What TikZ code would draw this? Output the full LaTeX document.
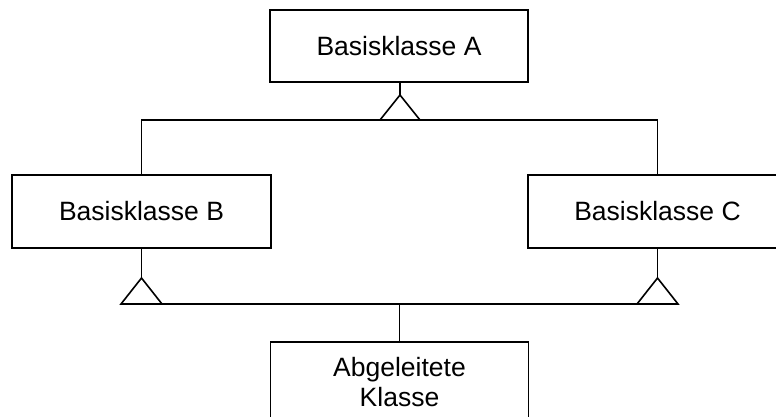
\documentclass[tikz,border=0pt]{standalone}
\usepackage{fontspec}
\setmainfont{Liberation Sans}
\begin{document}
\begin{tikzpicture}[x=1pt,y=-1pt,line width=1.6pt,
  cls/.style={draw,rectangle,inner sep=0pt,align=center,font=\fontsize{26.5}{30}\selectfont},
  tri/.style={draw,line join=miter}]
\useasboundingbox (0,0) rectangle (776,416);
\clip (0,0) rectangle (776,416);
\node[cls,minimum width=258pt,minimum height=72pt] (A) at (399,46) {Basisklasse A};
\node[cls,minimum width=259pt,minimum height=73pt] (B) at (141.5,211.5) {Basisklasse B};
\node[cls,minimum width=259pt,minimum height=73pt] (C) at (657.5,211.5) {Basisklasse C};
\node[cls,minimum width=258pt,minimum height=80pt] (D) at (399.5,382) {Abgeleitete\\Klasse};
% triangle under A
\coordinate (ta) at (400,95);
\coordinate (hA) at (400,120);
\draw (A.south -| ta) -- (ta);
\draw[tri] (ta) -- ++(20,25) -- ++(-40,0) -- cycle;
\draw (B.north -| B.north) ++(0,0);
\draw (B.north) |- (hA) -| (C.north);
% triangles under B and C
\coordinate (tb) at (141.5,278);
\coordinate (tc) at (657.5,278);
\draw (B.south) -- (tb);
\draw (C.south) -- (tc);
\draw[tri] (tb) -- ++(20.5,26) -- ++(-41,0) -- cycle;
\draw[tri] (tc) -- ++(20.5,26) -- ++(-41,0) -- cycle;
\coordinate (hB) at (141.5,304);
\coordinate (hC) at (657.5,304);
\draw (hB) -- (hC);
\draw (D.north) -- (D.north |- hB);
\end{tikzpicture}
\end{document}
